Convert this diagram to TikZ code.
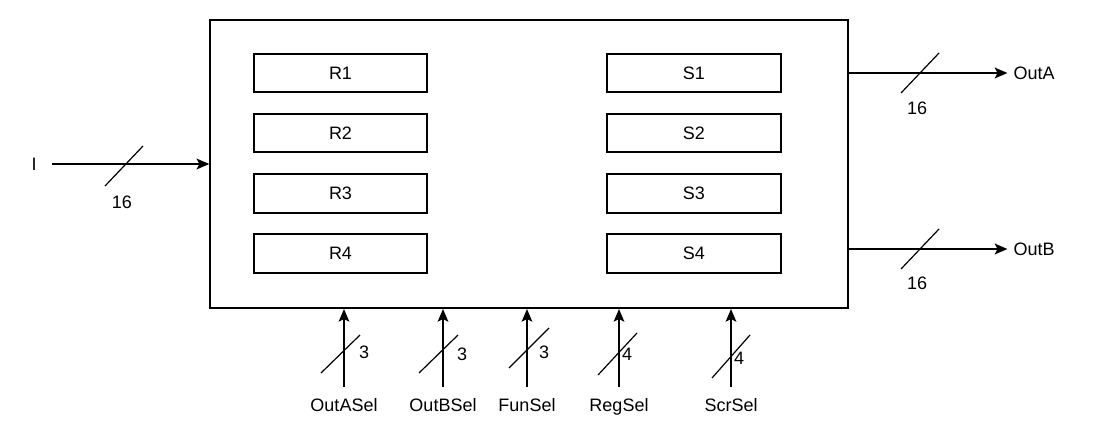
\documentclass[tikz,border=0pt]{standalone}
\usepackage{fontspec}
\setmainfont{Liberation Sans}
\usetikzlibrary{positioning,arrows.meta}
\begin{document}
\begin{tikzpicture}[x=0.75pt,y=-0.75pt,font=\fontsize{13.5}{16}\selectfont,
    reg/.style={draw,line width=1.5pt,minimum width=130pt,minimum height=29pt,inner sep=0pt},
    bus/.style={line width=1.5pt,-{Stealth[length=9.5pt,width=8pt,inset=2pt]}},
    sel/.style={anchor=base},
    tick/.style={line width=0.9pt}]
    \useasboundingbox (0,0) rectangle (1095,425);
    \path (529,164) node[draw,line width=1.5pt,minimum width=478pt,minimum height=216pt] (main) {};
    \path (340.5,73) node[reg] (R1) {R1};
    \path node[reg,below=14.6pt of R1] (R2) {R2};
    \path node[reg,below=14.6pt of R2] (R3) {R3};
    \path node[reg,below=14.6pt of R3] (R4) {R4};
    \path node[reg,right=133.5pt of R1] (S1) {S1};
    \path node[reg,right=133.5pt of R2] (S2) {S2};
    \path node[reg,right=133.5pt of R3] (S3) {S3};
    \path node[reg,right=133.5pt of R4] (S4) {S4};
    \path (34,164) node (I) {I};
    \path (1034,73) node (OutA) {OutA};
    \path (1034,249) node (OutB) {OutB};
    \path (344,411) node[sel] (OutASel) {OutASel};
    \path (443,411) node[sel] (OutBSel) {OutBSel};
    \path (527,411) node[sel] (FunSel) {FunSel};
    \path (619,411) node[sel] (RegSel) {RegSel};
    \path (731,411) node[sel] (ScrSel) {ScrSel};
    \draw[bus,shorten <=8pt] (I) -- (main.west |- I);
    \draw[bus,shorten >=1pt] (main.east |- OutA) -- (OutA);
    \draw[bus,shorten >=1pt] (main.east |- OutB) -- (OutB);
    \draw[bus,shorten <=5pt] (OutASel.north) -- (OutASel.north |- main.south);
    \draw[bus,shorten <=5pt] (OutBSel.north) -- (OutBSel.north |- main.south);
    \draw[bus,shorten <=5pt] (FunSel.north) -- (FunSel.north |- main.south);
    \draw[bus,shorten <=5pt] (RegSel.north) -- (RegSel.north |- main.south);
    \draw[bus,shorten <=5pt] (ScrSel.north) -- (ScrSel.north |- main.south);
    \draw[tick] (105,186) -- ++(38,-40);
    \draw[tick] (901,93) -- ++(38,-40);
    \draw[tick] (901,269) -- ++(38,-40);
    \draw[tick] (321,373) -- ++(39,-38);
    \draw[tick] (419,373) -- ++(39,-38);
    \draw[tick] (509,368) -- ++(40,-40);
    \draw[tick] (598,375) -- ++(39,-42);
    \draw[tick] (712,378) -- ++(38,-43);
    \path (122,202) node (nI) {16};
    \path (917,108) node (nA) {16};
    \path (917,283) node (nB) {16};
    \path (364,352) node (nOAS) {3};
    \path (462,354) node (nOBS) {3};
    \path (544,352) node (nFS) {3};
    \path (627,354) node (nRS) {4};
    \path (739,358) node (nSS) {4};
\end{tikzpicture}
\end{document}
